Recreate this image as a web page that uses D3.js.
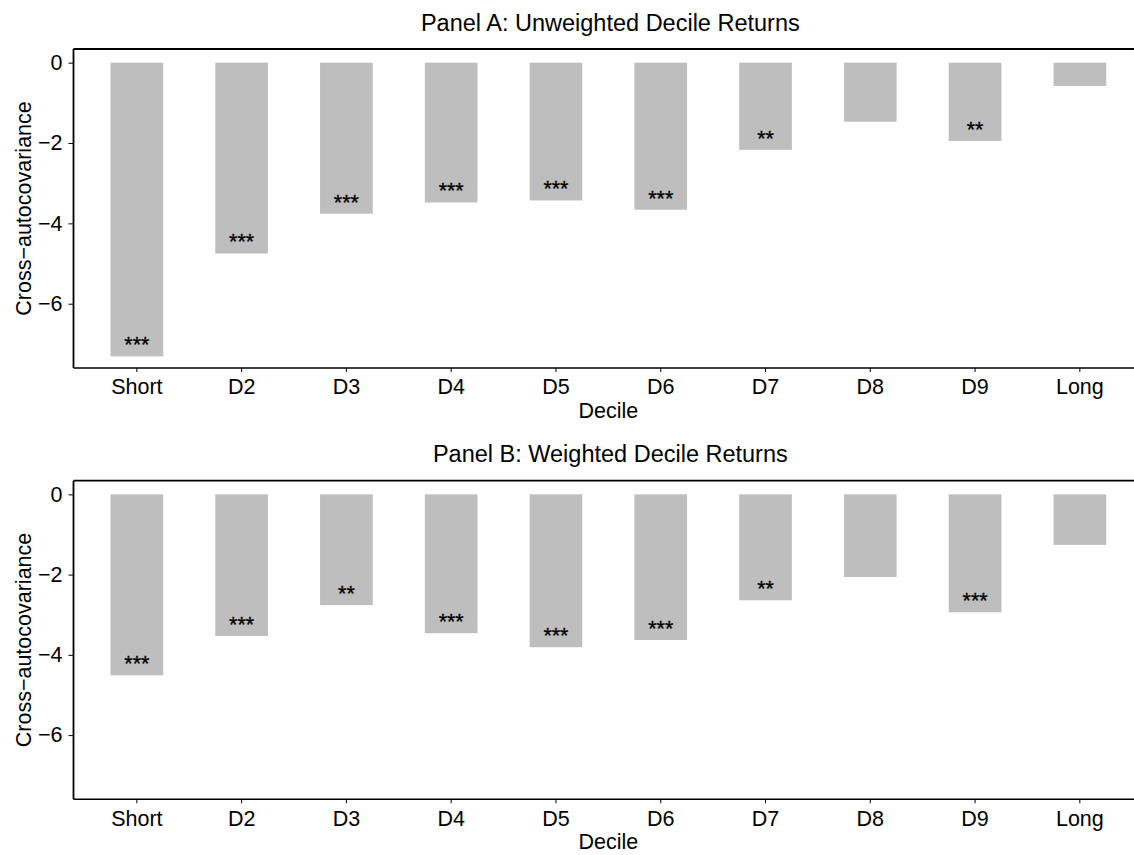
<!DOCTYPE html>
<html>
<head>
<meta charset="utf-8">
<script src="https://cdn.jsdelivr.net/npm/d3@7"></script>
<style>
  html, body { margin: 0; padding: 0; background: #fff; }
  svg text { font-family: "Liberation Sans", Arial, Helvetica, sans-serif; fill: #000; }
</style>
</head>
<body>
<svg id="chart" width="1134" height="855"></svg>
<script>
// Decile portfolios (short leg to long leg)
const deciles = ["Short", "D2", "D3", "D4", "D5", "D6", "D7", "D8", "D9", "Long"];

// Cross-autocovariance by decile
const unweightedValues = [-7.31, -4.75, -3.76, -3.48, -3.43, -3.66, -2.17, -1.47, -1.95, -0.58];
const weightedValues   = [-4.51, -3.53, -2.76, -3.46, -3.81, -3.63, -2.64, -2.06, -2.94, -1.26];

// Significance markers
const unweightedStars = ["***", "***", "***", "***", "***", "***", "**", "", "**", ""];
const weightedStars   = ["***", "***", "**", "***", "***", "***", "**", "", "***", ""];

// Y axis ticks
const yTicks = [0, -2, -4, -6];
const yDomain = [-7.6, 0.34];

const panelTitles = ["Panel A: Unweighted Decile Returns", "Panel B: Weighted Decile Returns"];

const svg = d3.select("#chart");
const FONT = 21.5;
const TITLE_FONT = 23.5;

const axisLeft = 73.5, axisRight = 1134;
const x = d3.scaleBand()
  .domain(deciles)
  .range([84.3, 1132.4])
  .paddingInner(0.497)
  .paddingOuter(0.25);

const panels = [
  { title: panelTitles[0], values: unweightedValues, stars: unweightedStars, top: 49, bottom: 368 },
  { title: panelTitles[1], values: weightedValues, stars: weightedStars, top: 480.7, bottom: 799.3 }
];

const fmt = d => d < 0 ? "\u2212" + Math.abs(d) : String(d);

panels.forEach(p => {
  const y = d3.scaleLinear().domain(yDomain).range([p.bottom, p.top]);
  const g = svg.append("g");
  const rows = deciles.map((d, i) => ({ d, v: p.values[i], s: p.stars[i] }));

  // bars hang down from zero
  g.selectAll("rect.bar")
    .data(rows)
    .join("rect")
    .attr("class", "bar")
    .attr("x", o => x(o.d))
    .attr("width", x.bandwidth())
    .attr("y", y(0))
    .attr("height", o => y(o.v) - y(0))
    .attr("fill", "#bebebe");

  // significance stars near the end of each bar
  g.selectAll("text.star")
    .data(rows)
    .join("text")
    .attr("class", "star")
    .attr("x", o => x(o.d) + x.bandwidth() / 2)
    .attr("y", o => y(o.v) - 4)
    .attr("text-anchor", "middle")
    .attr("font-size", FONT)
    .attr("stroke", "#000")
    .attr("stroke-width", 0.3)
    .text(o => o.s);

  // left axis
  const ya = g.append("g")
    .attr("transform", `translate(${axisLeft},0)`)
    .call(d3.axisLeft(y).tickValues(yTicks).tickFormat(fmt).tickSize(5).tickPadding(6));
  ya.select(".domain").remove();
  ya.selectAll(".tick line").attr("stroke", "#000").attr("stroke-width", 1);
  ya.selectAll(".tick text").attr("font-size", FONT).style("font-family", "Liberation Sans, Arial, sans-serif");

  // bottom axis
  const xa = g.append("g")
    .attr("transform", `translate(0,${p.bottom})`)
    .call(d3.axisBottom(x).tickSize(4).tickPadding(7));
  xa.select(".domain").remove();
  xa.selectAll(".tick line").attr("stroke", "#000").attr("stroke-width", 1);
  xa.selectAll(".tick text").attr("font-size", FONT).style("font-family", "Liberation Sans, Arial, sans-serif");

  // frame lines: left, top, bottom
  g.append("line").attr("x1", axisLeft).attr("x2", axisLeft).attr("y1", p.top).attr("y2", p.bottom)
    .attr("stroke", "#000").attr("stroke-width", 1.8);
  g.append("line").attr("x1", axisLeft).attr("x2", axisRight).attr("y1", p.top).attr("y2", p.top)
    .attr("stroke", "#000").attr("stroke-width", 1.8);
  g.append("line").attr("x1", axisLeft).attr("x2", axisRight).attr("y1", p.bottom).attr("y2", p.bottom)
    .attr("stroke", "#000").attr("stroke-width", 1.4);

  // titles
  const cx = (84.3 + 1132.4) / 2;
  g.append("text").attr("x", cx + 2).attr("y", p.top - 18.3)
    .attr("text-anchor", "middle").attr("font-size", TITLE_FONT).text(p.title);
  g.append("text").attr("x", cx).attr("y", p.bottom + 50)
    .attr("text-anchor", "middle").attr("font-size", FONT).text("Decile");
  g.append("text")
    .attr("transform", `translate(30.5,${(p.top + p.bottom) / 2}) rotate(-90)`)
    .attr("text-anchor", "middle").attr("font-size", FONT).text("Cross\u2212autocovariance");
});
</script>
</body>
</html>
